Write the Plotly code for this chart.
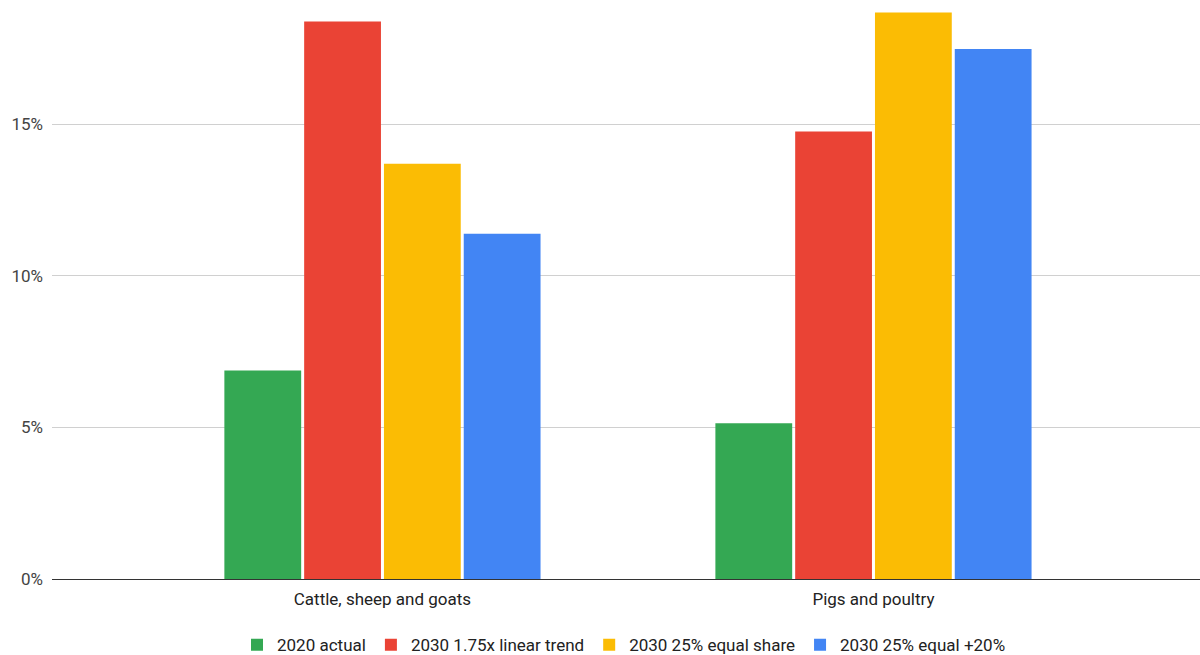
import plotly.graph_objects as go

categories = ["Cattle, sheep and goats", "Pigs and poultry"]
series_names = ["2020 actual", "2030 1.75x linear trend", "2030 25% equal share", "2030 25% equal +20%"]
actual_2020 = [0.0688, 0.0514]
linear_2030 = [0.1839, 0.1476]
equal_2030 = [0.1370, 0.1869]
equal20_2030 = [0.1139, 0.1748]
colors = ["#34a853", "#ea4335", "#fbbc04", "#4285f4"]

fig = go.Figure()
for name, vals, col in zip(series_names, [actual_2020, linear_2030, equal_2030, equal20_2030], colors):
    fig.add_trace(go.Bar(x=[0, 1], y=vals, name=name, marker=dict(color=col, line=dict(width=0))))

fig.update_layout(
    width=1200, height=655,
    margin=dict(l=52, r=0, t=3, b=76),
    plot_bgcolor="white", paper_bgcolor="white",
    barmode="group", bargap=0.35, bargroupgap=0.0375,
    font=dict(family="Roboto, Arial, sans-serif", size=17, color="#444"),
    xaxis=dict(range=[-0.673, 1.665], tickvals=[0, 1], ticktext=categories,
               showgrid=False, showline=False, ticks="", ticklabelstandoff=8,
               tickfont=dict(size=17, color="#222")),
    yaxis=dict(range=[0, 0.19], tickvals=[0, 0.05, 0.10, 0.15], ticktext=["0%", "5%", "10%", "15%"],
               showgrid=True, gridcolor="#d0d0d0", gridwidth=1, zeroline=True, zerolinecolor="#333",
               zerolinewidth=1, showline=False, ticks="", ticklabelstandoff=8,
               tickfont=dict(size=17, color="#444")),
    legend=dict(orientation="h", xref="container", yref="container", x=0.52, y=0.015,
                xanchor="center", yanchor="middle", font=dict(size=17, color="#222")),
    showlegend=True,
)

fig.write_html("out.html")
